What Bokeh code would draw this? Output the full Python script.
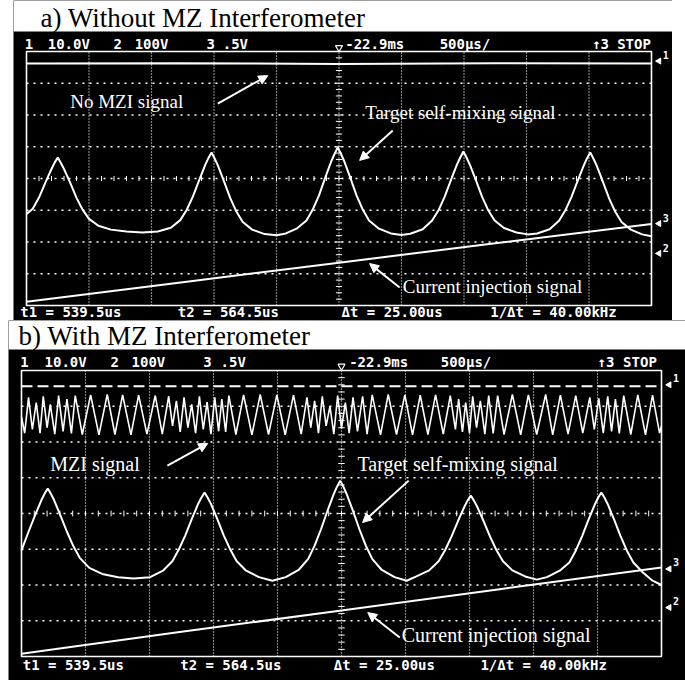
from bokeh.plotting import figure
from bokeh.layouts import column, row
from bokeh.models import Range1d, Spacer, Arrow, NormalHead
from bokeh.core.properties import value
from bokeh.embed import file_html
from bokeh.resources import INLINE

# ---------------- data (screen divisions: x 0..10, y 0..8) ----------------
title_a = "a) Without MZ Interferometer"
title_b = "b) With MZ Interferometer"

header_text = ["1", "10.0V", "2", "100V", "3", ".5V", "-22.9ms", "500µs/", "↑3", "STOP"]
header_x_a = [-0.03, 0.34, 1.39, 1.73, 2.88, 3.14, 5.10, 6.61, 9.05, 9.45]
header_x_b = [-0.02, 0.36, 1.39, 1.72, 2.84, 3.11, 5.12, 6.55, 9.00, 9.40]
footer_text = ["t1 = 539.5us", "t2 = 564.5us", "Δt = 25.00us", "1/Δt = 40.00kHz"]
footer_x_a = [-0.10, 2.42, 5.04, 7.42]
footer_x_b = [0.02, 2.48, 4.88, 7.17]

# panel a: self-mixing trace (x div, y div)
sm_a = [(0.00, 2.88), (0.10, 3.05), (0.20, 3.40), (0.30, 3.86), (0.40, 4.30), (0.45, 4.50),
        (0.50, 4.66), (0.55, 4.49), (0.60, 4.30), (0.70, 3.86), (0.80, 3.39), (0.90, 3.01),
        (1.00, 2.73), (1.15, 2.51), (1.35, 2.39), (1.60, 2.33), (1.85, 2.30), (2.10, 2.33),
        (2.31, 2.45), (2.46, 2.69), (2.56, 3.00), (2.66, 3.42), (2.76, 3.93), (2.86, 4.43),
        (2.91, 4.64), (2.96, 4.82), (3.01, 4.63), (3.06, 4.42), (3.16, 3.91), (3.26, 3.38),
        (3.36, 2.95), (3.46, 2.63), (3.61, 2.39), (3.81, 2.25), (4.00, 2.21), (4.15, 2.27),
        (4.33, 2.43), (4.48, 2.68), (4.58, 3.02), (4.68, 3.47), (4.78, 4.03), (4.88, 4.56),
        (4.93, 4.78), (4.98, 4.98), (5.03, 4.78), (5.08, 4.56), (5.18, 4.03), (5.28, 3.47),
        (5.38, 3.02), (5.48, 2.68), (5.63, 2.43), (5.83, 2.27), (6.00, 2.22), (6.14, 2.26),
        (6.34, 2.40), (6.49, 2.68), (6.59, 2.99), (6.69, 3.42), (6.79, 3.95), (6.89, 4.45),
        (6.94, 4.66), (6.99, 4.85), (7.04, 4.66), (7.09, 4.45), (7.19, 3.95), (7.29, 3.42),
        (7.39, 2.99), (7.49, 2.68), (7.64, 2.44), (7.84, 2.30), (8.02, 2.24), (8.17, 2.27),
        (8.37, 2.40), (8.52, 2.67), (8.62, 2.99), (8.72, 3.42), (8.82, 3.93), (8.92, 4.43),
        (8.97, 4.64), (9.02, 4.82), (9.07, 4.63), (9.12, 4.42), (9.22, 3.91), (9.32, 3.38),
        (9.42, 2.95), (9.52, 2.63), (9.67, 2.39), (9.85, 2.24), (10.00, 2.18)]
ramp_a = [(0.0, 0.12), (2.5, 0.73), (5.0, 1.35), (7.5, 1.96), (10.0, 2.57)]
ch1_a = [(0.0, 7.62), (2.5, 7.63), (5.0, 7.61), (7.5, 7.63), (10.0, 7.62)]

# panel b: self-mixing trace
sm_b = [(0.00, 2.97), (0.11, 3.49), (0.21, 3.94), (0.31, 4.37), (0.36, 4.55), (0.41, 4.70),
        (0.46, 4.55), (0.51, 4.37), (0.61, 3.94), (0.71, 3.49), (0.81, 3.09), (0.91, 2.76),
        (1.06, 2.48), (1.26, 2.31), (1.51, 2.22), (1.75, 2.18), (2.01, 2.22), (2.21, 2.40),
        (2.36, 2.67), (2.46, 3.00), (2.56, 3.39), (2.66, 3.84), (2.76, 4.27), (2.81, 4.44),
        (2.86, 4.59), (2.91, 4.44), (2.96, 4.27), (3.06, 3.84), (3.16, 3.39), (3.26, 3.00),
        (3.36, 2.67), (3.51, 2.40), (3.71, 2.22), (3.92, 2.12), (4.13, 2.22), (4.33, 2.42),
        (4.48, 2.73), (4.58, 3.10), (4.68, 3.56), (4.78, 4.07), (4.88, 4.55), (4.93, 4.75),
        (4.98, 4.92), (5.03, 4.75), (5.08, 4.55), (5.18, 4.07), (5.28, 3.56), (5.38, 3.10),
        (5.48, 2.73), (5.63, 2.42), (5.83, 2.22), (6.02, 2.12), (6.17, 2.24), (6.37, 2.41),
        (6.52, 2.67), (6.62, 2.98), (6.72, 3.36), (6.82, 3.79), (6.92, 4.19), (6.97, 4.36),
        (7.02, 4.50), (7.07, 4.36), (7.12, 4.19), (7.22, 3.79), (7.32, 3.36), (7.42, 2.98),
        (7.52, 2.67), (7.67, 2.41), (7.87, 2.24), (8.05, 2.15), (8.21, 2.22), (8.41, 2.40),
        (8.56, 2.63), (8.66, 2.96), (8.76, 3.37), (8.86, 3.83), (8.96, 4.26), (9.01, 4.44),
        (9.06, 4.59), (9.11, 4.44), (9.16, 4.26), (9.26, 3.83), (9.36, 3.37), (9.46, 2.96),
        (9.56, 2.63), (9.71, 2.35), (9.86, 2.12), (10.00, 2.00)]
ramp_b = [(0.0, 0.08), (2.5, 0.69), (5.0, 1.29), (7.5, 1.89), (10.0, 2.49)]
ch1_b = [(0.0, 7.56), (10.0, 7.56)]

# panel b: MZI fringes (extrema)
mzi_b = [(0.00, 6.70), (0.05, 6.25), (0.11, 7.25), (0.17, 6.35), (0.23, 7.10), (0.29, 6.25),
         (0.34, 7.28), (0.40, 6.40), (0.45, 7.05), (0.52, 6.22), (0.58, 7.30), (0.65, 6.30),
         (0.71, 7.20), (0.78, 6.24), (0.84, 7.30), (0.95, 6.21), (1.08, 7.32), (1.21, 6.20),
         (1.34, 7.33), (1.46, 6.21), (1.58, 7.32), (1.71, 6.20), (1.83, 7.31), (1.96, 6.22),
         (2.09, 7.30), (2.20, 6.22), (2.30, 7.28), (2.36, 6.45), (2.42, 7.15), (2.48, 6.28),
         (2.54, 7.25), (2.60, 6.40), (2.66, 7.05), (2.72, 6.25), (2.78, 7.28), (2.84, 6.35),
         (2.90, 7.12), (2.96, 6.22), (3.02, 7.25), (3.08, 6.30), (3.13, 7.20), (3.19, 6.28),
         (3.24, 7.30), (3.35, 6.21), (3.47, 7.32), (3.60, 6.20), (3.73, 7.33), (3.86, 6.21),
         (3.99, 7.32), (4.12, 6.20), (4.25, 7.31), (4.37, 6.22), (4.46, 7.25), (4.52, 6.40),
         (4.58, 7.15), (4.64, 6.25), (4.70, 7.28), (4.76, 6.45), (4.82, 7.00), (4.88, 6.22),
         (4.94, 7.30), (5.00, 6.38), (5.06, 7.10), (5.12, 6.25), (5.18, 7.25), (5.25, 6.30),
         (5.33, 7.28), (5.40, 6.22), (5.48, 7.32), (5.61, 6.20), (5.73, 7.33), (5.86, 6.21),
         (5.99, 7.32), (6.11, 6.20), (6.23, 7.31), (6.35, 6.21), (6.47, 7.32), (6.59, 6.22),
         (6.70, 7.30), (6.78, 6.35), (6.83, 7.20), (6.89, 6.28), (6.94, 7.10), (7.00, 6.25),
         (7.05, 7.28), (7.11, 6.40), (7.17, 7.15), (7.24, 6.22), (7.30, 7.30), (7.37, 6.24),
         (7.44, 7.30), (7.54, 6.21), (7.67, 7.33), (7.80, 6.20), (7.92, 7.32), (8.05, 6.21),
         (8.19, 7.33), (8.30, 6.20), (8.42, 7.31), (8.54, 6.22), (8.66, 7.30), (8.77, 6.25),
         (8.88, 7.25), (8.95, 6.35), (9.02, 7.22), (9.09, 6.25), (9.16, 7.28), (9.22, 6.30),
         (9.28, 7.20), (9.34, 6.24), (9.41, 7.30), (9.52, 6.21), (9.63, 7.32), (9.75, 6.20),
         (9.86, 7.31), (9.97, 6.25), (10.00, 6.45)]

# annotations: (text, x, y centre) and arrows (x0, y0, x1, y1)
notes_a = [("No MZI signal", 0.70, 6.44), ("Target self-mixing signal", 5.42, 6.09),
           ("Current injection signal", 6.02, 0.61)]
arrows_a = [(3.06, 6.36, 3.86, 7.24), (5.86, 5.51, 5.33, 4.57), (5.97, 0.57, 5.49, 1.32)]
notes_b = [("MZI signal", 0.45, 5.39), ("Target self-mixing signal", 5.25, 5.39),
           ("Current injection signal", 5.94, 0.61)]
arrows_b = [(2.28, 5.34, 2.91, 5.96), (6.05, 4.92, 5.33, 3.75), (5.91, 0.53, 5.41, 1.23)]

marker_text = ["1", "3", "2"]
marker_y_a = [7.70, 2.58, 1.64]
marker_y_b = [7.60, 2.45, 1.37]

grid_cols = [1, 2, 3, 4, 5, 6, 7, 8, 9]
grid_rows = [1, 2, 3, 4, 5, 6, 7]

MONO = value("DejaVu Sans Mono")
SERIF = value("Liberation Serif")
W = "white"


def split(pts):
    return [p[0] for p in pts], [p[1] for p in pts]


def scope(width, height, xr, yr, band_bottom, title, tx0, ty0, tsize,
          hx, fx, fy, notes, arrows, my, ann_size):
    p = figure(width=width, height=height, x_range=Range1d(*xr), y_range=Range1d(*yr),
               output_backend="svg", toolbar_location=None, min_border=0,
               x_axis_location=None, y_axis_location=None)
    p.grid.visible = False
    p.outline_line_color = None
    p.background_fill_color = "black"
    p.border_fill_color = "black"
    # white caption band with the panel title
    p.quad(left=[xr[0]], right=[xr[1]], bottom=[band_bottom], top=[yr[1]],
           fill_color="white", line_color=None)
    p.text(x=[tx0], y=[ty0], text=[title], text_font=SERIF, text_font_size=tsize,
           text_color="black", text_baseline="middle", text_align="left")
    # graticule
    p.segment(x0=grid_cols, y0=[0] * 9, x1=grid_cols, y1=[8] * 9, line_color=W,
              line_width=1.2, line_dash=value("1 2"))
    p.segment(x0=[0] * 7, y0=grid_rows, x1=[10] * 7, y1=grid_rows, line_color=W,
              line_width=1.5, line_dash=value("2 5"))
    tx = [0.2 * i for i in range(1, 50)]
    p.segment(x0=tx, y0=[3.92] * 49, x1=tx, y1=[4.08] * 49, line_color=W, line_width=1)
    ty = [0.2 * i for i in range(1, 40)]
    p.segment(x0=[4.95] * 39, y0=ty, x1=[5.05] * 39, y1=ty, line_color=W, line_width=1)
    p.quad(left=[0], right=[10], bottom=[0], top=[8], fill_color=None, line_color=W,
           line_width=1.6)
    p.scatter(x=[5.0], y=[8.12], marker="inverted_triangle", size=7, fill_color=None,
              line_color=W, line_width=1.2)
    # scope texts
    p.text(x=hx, y=[8.24] * len(hx), text=header_text, text_font=MONO, text_font_style="bold",
           text_font_size="14px", text_color=W, text_baseline="middle")
    p.text(x=fx, y=[fy] * len(fx), text=footer_text, text_font=MONO, text_font_style="bold",
           text_font_size="14px", text_color=W, text_baseline="middle")
    p.text(x=[n[1] for n in notes], y=[n[2] for n in notes], text=[n[0] for n in notes],
           text_font=SERIF, text_font_size=ann_size, text_color=W, text_baseline="middle")
    for (x0, y0, x1, y1) in arrows:
        p.add_layout(Arrow(end=NormalHead(size=9, fill_color=W, line_color=W), x_start=x0,
                           y_start=y0, x_end=x1, y_end=y1, line_color=W, line_width=2))
    # channel markers on the right
    p.scatter(x=[10.12] * 3, y=my, marker="triangle", angle=1.5708, size=6, fill_color=W,
              line_color=W)
    p.text(x=[10.18] * 3, y=[v + 0.18 for v in my], text=marker_text, text_font=MONO,
           text_font_style="bold", text_font_size="10px", text_color=W, text_baseline="middle")
    return p


pa = scope(659, 320, (-0.208, 10.336), (-0.472, 9.606), 8.630, title_a, 0.224, 9.046, "27px",
           header_x_a, footer_x_a, -0.205, notes_a, arrows_a, marker_y_a, "19px")
x, y = split(ch1_a)
pa.line(x, y, line_color=W, line_width=2)
x, y = split(sm_a)
pa.line(x, y, line_color=W, line_width=2)
x, y = split(ramp_a)
pa.line(x, y, line_color=W, line_width=2)

pb = scope(677, 360, (-0.203, 10.375), (-0.671, 9.399), 8.587, title_b, -0.047, 8.965, "27px",
           header_x_b, footer_x_b, -0.25, notes_b, arrows_b, marker_y_b, "20px")
x, y = split(ch1_b)
pb.line(x, y, line_color=W, line_width=2, line_dash="11 5")
x, y = split(mzi_b)
pb.line(x, y, line_color=W, line_width=1.6)
x, y = split(sm_b)
pb.line(x, y, line_color=W, line_width=2)
x, y = split(ramp_b)
pb.line(x, y, line_color=W, line_width=2)

layout = column(row(Spacer(width=13, height=320), pa), row(Spacer(width=8, height=360), pb))
open("out.html", "w").write(file_html(layout, INLINE))
